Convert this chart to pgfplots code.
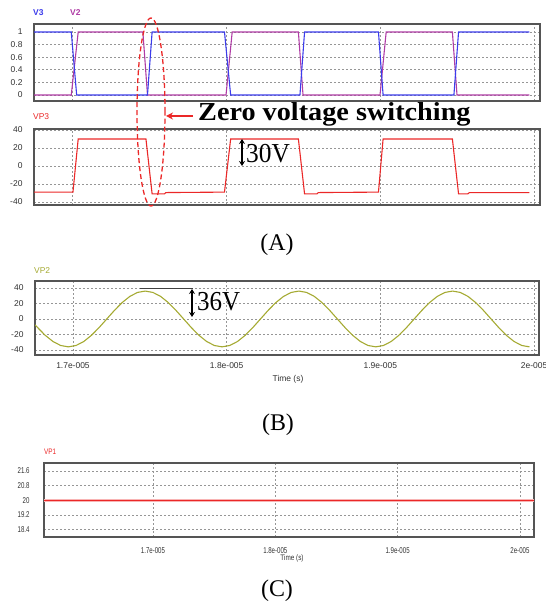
\documentclass[border=0pt]{standalone}
\usepackage{pgfplots}
\pgfplotsset{compat=1.18}
\usepackage{fontspec}
\setmainfont{Liberation Serif}
\setsansfont{Liberation Sans}
\usetikzlibrary{arrows.meta}
\definecolor{vblue}{RGB}{60,60,235}
\definecolor{vmag}{RGB}{175,60,165}
\definecolor{vred}{RGB}{235,40,40}
\definecolor{volive}{RGB}{165,170,50}
\definecolor{framec}{RGB}{85,85,85}
\definecolor{gridc}{RGB}{150,150,150}
\definecolor{tickc}{RGB}{50,50,50}
\pgfplotsset{
  scopeaxis/.style={
    scale only axis,
    anchor=south west,
    axis line style={framec, line width=1.1bp},
    grid=major,
    major grid style={gridc, dash pattern=on 2bp off 2bp, line width=0.6bp},
    major tick length=0pt,
    tick label style={font=\sffamily\fontsize{8.5}{8.5}\selectfont, text=tickc},
    /pgf/number format/assume math mode=true,
    yticklabel style={anchor=east, xshift=-8bp},
    xticklabel style={anchor=north, yshift=-4bp},
    clip=true,
  }
}
\begin{document}
\begin{tikzpicture}[x=1bp,y=1bp]
\useasboundingbox (0,0) rectangle (546,604);

% ---------------- Panel A1: V3, V2
\begin{axis}[scopeaxis, at={(34bp,503bp)}, width=506bp, height=77bp,
  xmin=16.753, xmax=20.039, ymin=-0.095, ymax=1.127,
  xtick={17,18,19,20}, xticklabels={},
  ytick={0,0.2,0.4,0.6,0.8,1}, yticklabels={0,0.2,0.4,0.6,0.8,1}]
\addplot[vmag, line width=1.1bp] coordinates {
(16.753,0) (16.995,0) (17.04,1) (17.46,1) (17.49,0) (18.0,0) (18.04,1)
(18.47,1) (18.50,0) (19.0,0) (19.04,1) (19.47,1) (19.50,0) (19.97,0)};
\addplot[vblue, line width=1.1bp] coordinates {
(16.753,1) (16.995,1) (17.03,0) (17.49,0) (17.52,1) (17.99,1) (18.03,0)
(18.48,0) (18.51,1) (18.99,1) (19.02,0) (19.48,0) (19.51,1) (19.97,1)};
\end{axis}

% ---------------- Panel A2: VP3
\begin{axis}[scopeaxis, at={(34bp,399bp)}, width=506bp, height=76bp,
  xmin=16.753, xmax=20.039, ymin=-43.3, ymax=41.1,
  xtick={17,18,19,20}, xticklabels={},
  ytick={-40,-20,0,20,40}]
\addplot[vred, line width=1.1bp] coordinates {
(16.753,-29) (17.006,-29) (17.04,30) (17.48,30) (17.52,-31) (17.60,-31) (17.61,-29.5)
(17.99,-29) (18.03,30) (18.47,30) (18.51,-31) (18.59,-31) (18.60,-29.5)
(18.99,-29) (19.02,30) (19.47,30) (19.51,-31) (19.57,-31) (19.58,-29.5) (19.97,-29.5)};
\end{axis}

% ---------------- Panel B: VP2
\begin{axis}[scopeaxis, at={(35bp,249bp)}, width=504bp, height=74bp,
  xmin=16.753, xmax=20.032, ymin=-46.5, ymax=49,
  xtick={17,18,19,20}, xticklabels={1.7e-005,1.8e-005,1.9e-005,2e-005},
  ytick={-40,-20,0,20,40}]
\addplot[volive, line width=1.1bp] coordinates {
(16.753,-7.5) (16.77,-11.12) (16.82,-21.16) (16.87,-29.12) (16.92,-34.24) (16.97,-36)
(17.02,-34.24) (17.07,-29.12) (17.12,-21.16) (17.17,-11.12) (17.22,0)
(17.27,11.12) (17.32,21.16) (17.37,29.12) (17.42,34.24) (17.47,36)
(17.52,34.24) (17.57,29.12) (17.62,21.16) (17.67,11.12) (17.72,0)
(17.77,-11.12) (17.82,-21.16) (17.87,-29.12) (17.92,-34.24) (17.97,-36)
(18.02,-34.24) (18.07,-29.12) (18.12,-21.16) (18.17,-11.12) (18.22,0)
(18.27,11.12) (18.32,21.16) (18.37,29.12) (18.42,34.24) (18.47,36)
(18.52,34.24) (18.57,29.12) (18.62,21.16) (18.67,11.12) (18.72,0)
(18.77,-11.12) (18.82,-21.16) (18.87,-29.12) (18.92,-34.24) (18.97,-36)
(19.02,-34.24) (19.07,-29.12) (19.12,-21.16) (19.17,-11.12) (19.22,0)
(19.27,11.12) (19.32,21.16) (19.37,29.12) (19.42,34.24) (19.47,36)
(19.52,34.24) (19.57,29.12) (19.62,21.16) (19.67,11.12) (19.72,0)
(19.77,-11.12) (19.82,-21.16) (19.87,-29.12) (19.92,-34.24) (19.97,-36)};
\end{axis}

% ---------------- Panel C: VP1
\begin{axis}[scopeaxis, at={(44bp,67bp)}, width=490bp, height=74bp,
  xmin=16.109, xmax=20.115, ymin=18.0, ymax=22.03,
  xtick={17,18,19,20},
  xticklabels={\scalebox{0.72}[1]{1.7e-005},\scalebox{0.72}[1]{1.8e-005},\scalebox{0.72}[1]{1.9e-005},\scalebox{0.72}[1]{2e-005}},
  ytick={18.4,19.2,20,20.8,21.6},
  yticklabels={\scalebox{0.72}[1]{18.4},\scalebox{0.72}[1]{19.2},\scalebox{0.72}[1]{20},\scalebox{0.72}[1]{20.8},\scalebox{0.72}[1]{21.6}},
  yticklabel style={anchor=east, xshift=-3bp},
  xticklabel style={anchor=north, yshift=-3bp}]
\addplot[vred!35, line width=3bp] coordinates {(16.109,20) (20.115,20)};
\addplot[vred, line width=1bp] coordinates {(16.109,20) (20.115,20)};
\end{axis}

% ---------------- Series titles
\node[anchor=west, inner sep=0, text=vblue, font=\sffamily\bfseries\fontsize{8.5}{8.5}\selectfont] at (33,591) {V3};
\node[anchor=west, inner sep=0, text=vmag, font=\sffamily\bfseries\fontsize{8.5}{8.5}\selectfont] at (70,591) {V2};
\node[anchor=west, inner sep=0, text=vred, font=\sffamily\fontsize{8.5}{8.5}\selectfont] at (33,487) {VP3};
\node[anchor=west, inner sep=0, text=volive, font=\sffamily\fontsize{8.5}{8.5}\selectfont] at (34,333) {VP2};
\node[anchor=west, inner sep=0, text=vred, font=\sffamily\fontsize{8}{8}\selectfont] at (44,152) {\scalebox{0.8}[1]{VP1}};

% ---------------- Axis labels
\node[inner sep=0, text=tickc, font=\sffamily\fontsize{8.5}{8.5}\selectfont] at (288,225) {Time (s)};
\node[inner sep=0, text=tickc, font=\sffamily\fontsize{8}{8}\selectfont] at (292,46) {\scalebox{0.8}[1]{Time (s)}};

% ---------------- Annotations
\draw[vred, line width=1.3bp, dash pattern=on 5bp off 3bp] (151,492) ellipse [x radius=14, y radius=94];
\draw[vred, line width=2bp, -{Stealth[length=7bp,width=7bp]}] (193,488) -- (166,488);
\node[anchor=base west, inner sep=0, font=\bfseries\fontsize{26}{26}\selectfont] at (198,483) {\scalebox{1.09}[1]{Zero voltage switching}};

\draw[black, line width=1.4bp, {Stealth[length=5bp,width=6bp]}-{Stealth[length=5bp,width=6bp]}] (242,465) -- (242,438);
\node[anchor=west, inner sep=0, font=\fontsize{25}{25}\selectfont] at (246,450) {\scalebox{1.02}[1.1]{30V}};

\draw[black!75, line width=1bp] (140,315) -- (193,315);
\draw[black, line width=1.4bp, {Stealth[length=5bp,width=6bp]}-{Stealth[length=5bp,width=6bp]}] (192,315) -- (192,287);
\node[anchor=west, inner sep=0, font=\fontsize{25}{25}\selectfont] at (197,302) {\scalebox{1}[1.1]{36V}};

% ---------------- Captions
\node[inner sep=0, font=\fontsize{24}{24}\selectfont] at (277,359) {(A)};
\node[inner sep=0, font=\fontsize{24}{24}\selectfont] at (278,179) {(B)};
\node[inner sep=0, font=\fontsize{24}{24}\selectfont] at (277,13) {(C)};
\end{tikzpicture}
\end{document}
